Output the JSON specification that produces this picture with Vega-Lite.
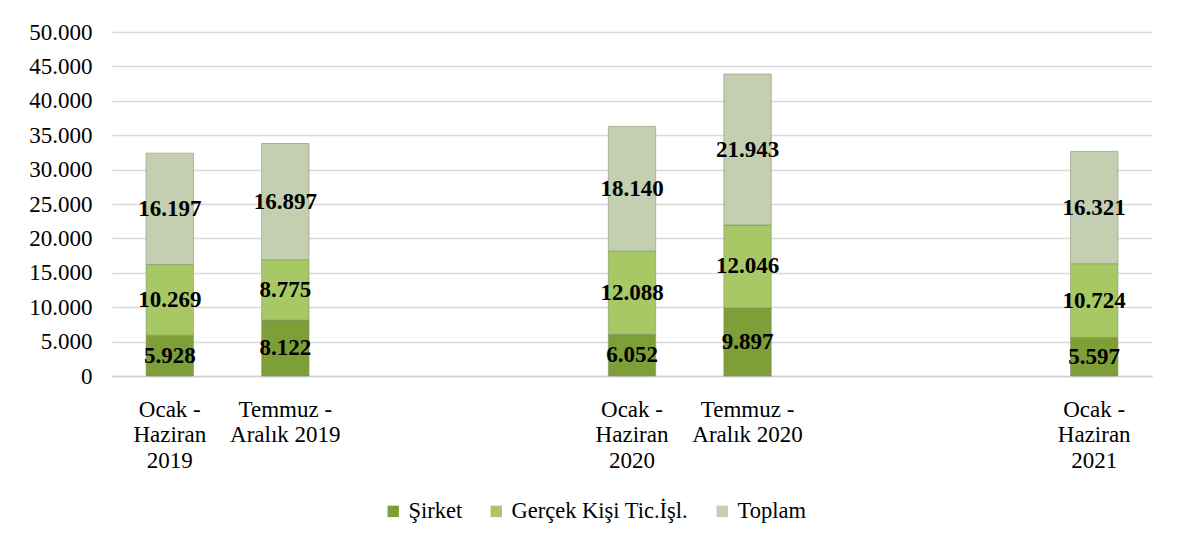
{
  "$schema": "https://vega.github.io/schema/vega-lite/v6.json",
  "autosize": {"type": "none"},
  "width": 1040,
  "height": 344,
  "padding": {"left": 112, "top": 32, "right": 25, "bottom": 169},
  "background": "white",
  "config": {
    "locale": {"number": {"decimal": ",", "thousands": ".", "grouping": [3], "currency": ["", " ₺"]}},
    "font": "Liberation Serif",
    "view": {"stroke": null},
    "axisY": {
      "title": null,
      "values": [0, 5000, 10000, 15000, 20000, 25000, 30000, 35000, 40000, 45000, 50000],
      "format": ",d",
      "domain": false,
      "ticks": false,
      "gridColor": "#d9d9d9",
      "gridWidth": 1.5,
      "labelFont": "Liberation Serif",
      "labelFontSize": 23,
      "labelColor": "#000000",
      "labelPadding": 20,
      "labelOverlap": false
    }
  },
  "data": {
    "values": [
      {"donem": "Ocak - Haziran 2019", "seri": "Şirket", "sira": 1, "deger": 5928},
      {"donem": "Ocak - Haziran 2019", "seri": "Gerçek Kişi Tic.İşl.", "sira": 2, "deger": 10269},
      {"donem": "Ocak - Haziran 2019", "seri": "Toplam", "sira": 3, "deger": 16197},
      {"donem": "Temmuz - Aralık 2019", "seri": "Şirket", "sira": 1, "deger": 8122},
      {"donem": "Temmuz - Aralık 2019", "seri": "Gerçek Kişi Tic.İşl.", "sira": 2, "deger": 8775},
      {"donem": "Temmuz - Aralık 2019", "seri": "Toplam", "sira": 3, "deger": 16897},
      {"donem": "Ocak - Haziran 2020", "seri": "Şirket", "sira": 1, "deger": 6052},
      {"donem": "Ocak - Haziran 2020", "seri": "Gerçek Kişi Tic.İşl.", "sira": 2, "deger": 12088},
      {"donem": "Ocak - Haziran 2020", "seri": "Toplam", "sira": 3, "deger": 18140},
      {"donem": "Temmuz - Aralık 2020", "seri": "Şirket", "sira": 1, "deger": 9897},
      {"donem": "Temmuz - Aralık 2020", "seri": "Gerçek Kişi Tic.İşl.", "sira": 2, "deger": 12046},
      {"donem": "Temmuz - Aralık 2020", "seri": "Toplam", "sira": 3, "deger": 21943},
      {"donem": "Ocak - Haziran 2021", "seri": "Şirket", "sira": 1, "deger": 5597},
      {"donem": "Ocak - Haziran 2021", "seri": "Gerçek Kişi Tic.İşl.", "sira": 2, "deger": 10724},
      {"donem": "Ocak - Haziran 2021", "seri": "Toplam", "sira": 3, "deger": 16321}
    ]
  },
  "transform": [
    {"stack": "deger", "groupby": ["donem"], "sort": [{"field": "sira", "order": "ascending"}], "as": ["y0", "y1"]},
    {"calculate": "(datum.y0 + datum.y1) / 2", "as": "orta"}
  ],
  "encoding": {
    "x": {
      "field": "donem",
      "type": "nominal",
      "scale": {
        "domain": ["Ocak - Haziran 2019", "Temmuz - Aralık 2019", " ", "  ", "Ocak - Haziran 2020", "Temmuz - Aralık 2020", "   ", "    ", "Ocak - Haziran 2021"],
        "paddingInner": 0.59,
        "paddingOuter": 0.295
      },
      "axis": {
        "title": null,
        "labelAngle": 0,
        "ticks": false,
        "domainColor": "#d0d0d0",
        "domainWidth": 1.5,
        "labelFont": "Liberation Serif",
        "labelFontSize": 23,
        "labelColor": "#000000",
        "labelPadding": 22,
        "labelLineHeight": 25.5,
        "labelBaseline": "top",
        "labelOverlap": false,
        "labelLimit": 0,
        "labelExpr": "indexof(datum.label, 'Ocak') == 0 ? ['Ocak -', 'Haziran', slice(datum.label, -4)] : indexof(datum.label, 'Temmuz') == 0 ? ['Temmuz -', 'Aralık ' + slice(datum.label, -4)] : ''"
      }
    }
  },
  "layer": [
    {
      "mark": {"type": "bar", "stroke": "#7f8c68", "strokeWidth": 0.8, "strokeOpacity": 0.7},
      "encoding": {
        "y": {
          "field": "y0",
          "type": "quantitative",
          "scale": {"domain": [0, 50000]},
          "axis": {"title": null}
        },
        "y2": {"field": "y1"},
        "color": {
          "field": "seri",
          "type": "nominal",
          "sort": ["Şirket", "Gerçek Kişi Tic.İşl.", "Toplam"],
          "scale": {"domain": ["Şirket", "Gerçek Kişi Tic.İşl.", "Toplam"], "range": ["#7e9e38", "#a8c865", "#c3cfb0"]},
          "legend": {
            "title": null,
            "orient": "none",
            "direction": "horizontal",
            "legendX": 270,
            "legendY": 468,
            "symbolType": "square",
            "symbolSize": 130,
            "symbolStrokeWidth": 0,
            "labelFont": "Liberation Serif",
            "labelFontSize": 22.5,
            "labelColor": "#000000",
            "labelOffset": 4,
            "labelLimit": 0,
            "columnPadding": 22
          }
        }
      }
    },
    {
      "mark": {"type": "text", "fontWeight": "bold", "fontSize": 23, "font": "Liberation Serif", "color": "#000000", "baseline": "middle"},
      "encoding": {
        "y": {"field": "orta", "type": "quantitative", "axis": {"title": null}},
        "text": {"field": "deger", "type": "quantitative", "format": ",d"}
      }
    }
  ]
}
